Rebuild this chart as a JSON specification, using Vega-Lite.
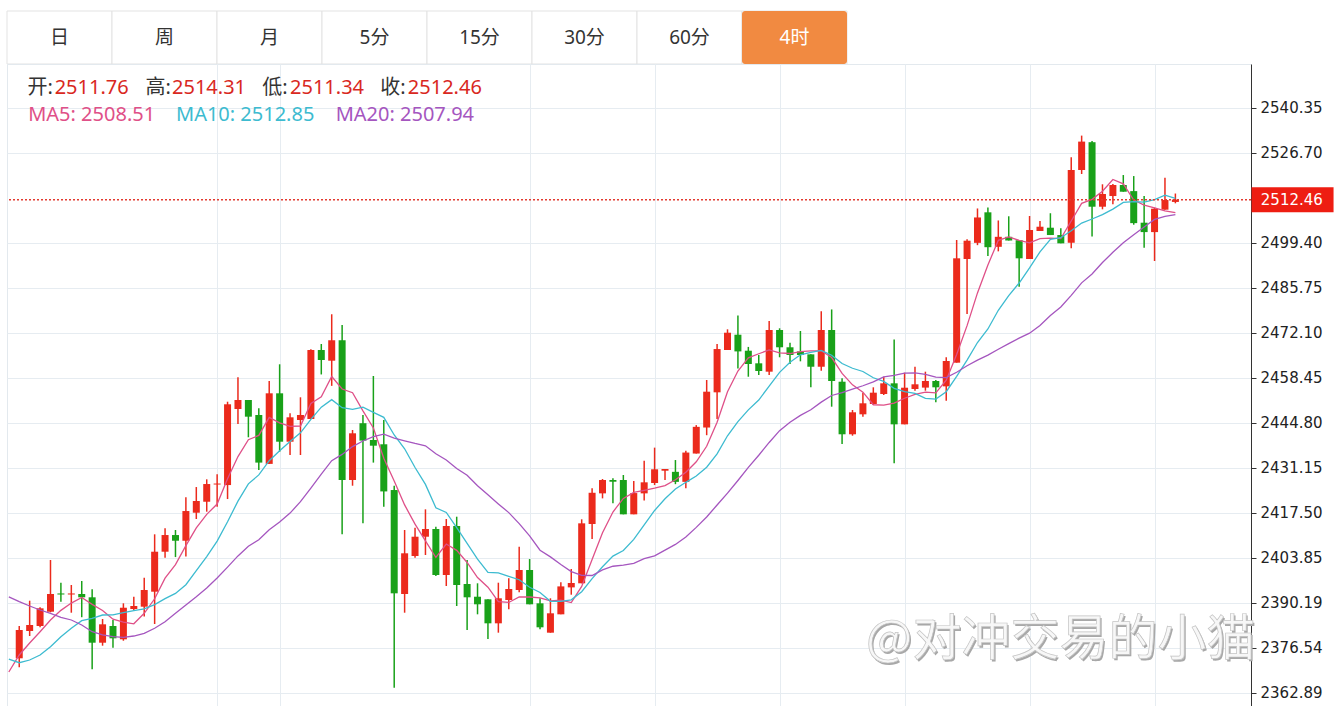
{
"$schema": "https://vega.github.io/schema/vega-lite/v6.json",
"autosize": {"type": "pad"},
"padding": {"left": 5, "top": 10, "right": 0, "bottom": 0},
"background": "#ffffff",
"spacing": 0,
"bounds": "flush",
"config": {"axis": {"gridColor": "#e6ecf1", "gridWidth": 1}},
"vconcat": [
{
"width": 840, "height": 53,
"view": {"stroke": null},
"data": {"values": [{"tab":"日"},{"tab":"周"},{"tab":"月"},{"tab":"5分"},{"tab":"15分"},{"tab":"30分"},{"tab":"60分"},{"tab":"4时"}]},
"encoding": {"x": {"field": "tab", "type": "nominal", "sort": null, "scale": {"paddingInner": 0, "paddingOuter": 0}, "axis": null}},
"layer": [
{"mark": {"type": "rect", "fill": "#ffffff", "stroke": "#e3e3e3", "strokeWidth": 1}},
{"transform": [{"filter": "datum.tab === '4时'"}], "mark": {"type": "rect", "fill": "#f18a41", "cornerRadius": 3}},
{"mark": {"type": "text", "font": "Noto Sans, Noto Sans CJK SC", "fontSize": 19, "baseline": "middle"},
 "encoding": {"text": {"field": "tab"}, "color": {"condition": {"test": "datum.tab === '4时'", "value": "#ffffff"}, "value": "#333333"}}}
]
},
{
"width": 1244, "height": 642,
"view": {"stroke": "#e3e9ee"},
"data": {"values": [
{"i":-1,"ma5":2369.17,"ma10":2373.11,"ma20":2391.98},
{"i":0,"o":2373.33,"h":2383.12,"l":2370.60,"c":2381.91,"ma5":2374.33,"ma10":2371.99,"ma20":2390.50},
{"i":1,"o":2381.61,"h":2390.80,"l":2380.09,"c":2383.43,"ma5":2377.97,"ma10":2372.81,"ma20":2389.19},
{"i":2,"o":2383.12,"h":2388.80,"l":2382.73,"c":2388.49,"ma5":2381.40,"ma10":2374.33,"ma20":2387.98},
{"i":3,"o":2387.46,"h":2403.14,"l":2387.28,"c":2392.83,"ma5":2384.95,"ma10":2376.85,"ma20":2386.98},
{"i":4,"o":2393.00,"h":2396.26,"l":2390.49,"c":2392.68,"ma5":2387.87,"ma10":2379.88,"ma20":2385.76},
{"i":5,"o":2392.68,"h":2395.56,"l":2387.16,"c":2393.00,"ma5":2390.08,"ma10":2382.43,"ma20":2384.95},
{"i":6,"o":2392.83,"h":2396.77,"l":2385.79,"c":2391.83,"ma5":2391.76,"ma10":2384.73,"ma20":2383.43},
{"i":7,"o":2391.83,"h":2394.26,"l":2369.99,"c":2378.06,"ma5":2389.68,"ma10":2385.46,"ma20":2381.40},
{"i":8,"o":2378.06,"h":2385.25,"l":2377.15,"c":2383.64,"ma5":2387.84,"ma10":2386.46,"ma20":2380.40},
{"i":9,"o":2383.12,"h":2384.94,"l":2376.54,"c":2379.39,"ma5":2385.18,"ma10":2386.52,"ma20":2379.88},
{"i":10,"o":2379.09,"h":2390.01,"l":2378.66,"c":2388.67,"ma5":2384.32,"ma10":2387.20,"ma20":2379.70},
{"i":11,"o":2388.28,"h":2392.00,"l":2387.98,"c":2389.19,"ma5":2383.79,"ma10":2387.78,"ma20":2380.09},
{"i":12,"o":2388.98,"h":2397.77,"l":2385.98,"c":2394.04,"ma5":2386.99,"ma10":2388.33,"ma20":2380.91},
{"i":13,"o":2393.53,"h":2410.94,"l":2383.73,"c":2405.66,"ma5":2391.39,"ma10":2389.62,"ma20":2382.43},
{"i":14,"o":2405.66,"h":2412.75,"l":2403.85,"c":2410.72,"ma5":2397.66,"ma10":2391.42,"ma20":2384.43},
{"i":15,"o":2410.72,"h":2412.24,"l":2404.03,"c":2408.99,"ma5":2401.73,"ma10":2393.02,"ma20":2386.98},
{"i":16,"o":2408.99,"h":2422.16,"l":2404.24,"c":2418.00,"ma5":2407.49,"ma10":2395.64,"ma20":2389.50},
{"i":17,"o":2417.49,"h":2425.28,"l":2415.58,"c":2421.04,"ma5":2412.89,"ma10":2399.94,"ma20":2392.01},
{"i":18,"o":2420.82,"h":2427.62,"l":2417.80,"c":2426.19,"ma5":2416.99,"ma10":2404.19,"ma20":2394.65},
{"i":19,"o":2426.04,"h":2429.13,"l":2419.31,"c":2426.34,"ma5":2420.12,"ma10":2408.89,"ma20":2397.70},
{"i":20,"o":2425.88,"h":2451.16,"l":2421.64,"c":2450.38,"ma5":2427.79,"ma10":2414.76,"ma20":2400.98},
{"i":21,"o":2448.95,"h":2458.57,"l":2444.40,"c":2451.68,"ma5":2434.52,"ma10":2421.00,"ma20":2404.39},
{"i":22,"o":2451.68,"h":2451.68,"l":2440.37,"c":2446.62,"ma5":2439.64,"ma10":2426.26,"ma20":2407.30},
{"i":23,"o":2447.13,"h":2449.16,"l":2430.47,"c":2432.69,"ma5":2440.93,"ma10":2428.96,"ma20":2409.29},
{"i":24,"o":2432.30,"h":2457.44,"l":2432.30,"c":2453.71,"ma5":2446.40,"ma10":2433.26,"ma20":2412.34},
{"i":25,"o":2453.71,"h":2462.51,"l":2436.00,"c":2439.03,"ma5":2444.74,"ma10":2436.26,"ma20":2414.64},
{"i":26,"o":2439.03,"h":2447.64,"l":2434.99,"c":2446.43,"ma5":2443.69,"ma10":2439.10,"ma20":2417.37},
{"i":27,"o":2445.61,"h":2452.50,"l":2434.99,"c":2447.13,"ma5":2443.79,"ma10":2441.71,"ma20":2420.83},
{"i":28,"o":2445.91,"h":2467.05,"l":2445.91,"c":2466.84,"ma5":2450.63,"ma10":2445.78,"ma20":2424.98},
{"i":29,"o":2466.84,"h":2468.66,"l":2459.43,"c":2463.81,"ma5":2452.65,"ma10":2449.52,"ma20":2429.21},
{"i":30,"o":2463.60,"h":2477.69,"l":2455.97,"c":2469.80,"ma5":2458.82,"ma10":2451.78,"ma20":2433.27},
{"i":31,"o":2469.80,"h":2474.42,"l":2410.94,"c":2427.41,"ma5":2455.01,"ma10":2449.35,"ma20":2435.18},
{"i":32,"o":2427.41,"h":2442.58,"l":2425.68,"c":2441.58,"ma5":2453.90,"ma10":2448.85,"ma20":2437.55},
{"i":33,"o":2444.64,"h":2447.13,"l":2414.27,"c":2439.36,"ma5":2448.40,"ma10":2449.51,"ma20":2439.24},
{"i":34,"o":2439.55,"h":2458.96,"l":2432.69,"c":2437.82,"ma5":2443.20,"ma10":2447.93,"ma20":2440.59},
{"i":35,"o":2438.25,"h":2445.61,"l":2419.31,"c":2423.95,"ma5":2434.00,"ma10":2446.41,"ma20":2441.33},
{"i":36,"o":2424.37,"h":2425.68,"l":2364.41,"c":2393.04,"ma5":2427.13,"ma10":2441.07,"ma20":2440.09},
{"i":37,"o":2392.83,"h":2412.24,"l":2387.16,"c":2405.18,"ma5":2419.85,"ma10":2436.88,"ma20":2439.29},
{"i":38,"o":2404.36,"h":2412.94,"l":2403.85,"c":2410.21,"ma5":2414.02,"ma10":2431.21,"ma20":2438.49},
{"i":39,"o":2410.21,"h":2418.52,"l":2404.66,"c":2412.55,"ma5":2408.97,"ma10":2426.08,"ma20":2437.80},
{"i":40,"o":2412.55,"h":2413.24,"l":2398.29,"c":2398.59,"ma5":2403.91,"ma10":2418.96,"ma20":2435.37},
{"i":41,"o":2398.59,"h":2415.58,"l":2395.26,"c":2413.46,"ma5":2408.00,"ma10":2417.56,"ma20":2433.46},
{"i":42,"o":2413.46,"h":2416.28,"l":2389.19,"c":2395.56,"ma5":2406.07,"ma10":2412.96,"ma20":2430.90},
{"i":43,"o":2395.87,"h":2403.14,"l":2381.91,"c":2391.83,"ma5":2402.40,"ma10":2408.21,"ma20":2428.86},
{"i":44,"o":2392.01,"h":2396.08,"l":2386.67,"c":2389.71,"ma5":2397.83,"ma10":2403.40,"ma20":2425.66},
{"i":45,"o":2391.22,"h":2391.22,"l":2379.18,"c":2383.94,"ma5":2394.90,"ma10":2399.41,"ma20":2422.91},
{"i":46,"o":2383.94,"h":2396.26,"l":2381.10,"c":2391.53,"ma5":2390.51,"ma10":2399.25,"ma20":2420.16},
{"i":47,"o":2391.01,"h":2397.59,"l":2388.19,"c":2394.35,"ma5":2390.27,"ma10":2398.17,"ma20":2417.52},
{"i":48,"o":2394.04,"h":2407.18,"l":2393.34,"c":2400.11,"ma5":2391.93,"ma10":2397.16,"ma20":2414.18},
{"i":49,"o":2400.11,"h":2403.44,"l":2389.71,"c":2389.71,"ma5":2391.93,"ma10":2394.88,"ma20":2410.48},
{"i":50,"o":2390.01,"h":2391.53,"l":2382.12,"c":2382.73,"ma5":2391.69,"ma10":2393.29,"ma20":2406.12},
{"i":51,"o":2381.10,"h":2391.53,"l":2381.10,"c":2386.98,"ma5":2390.77,"ma10":2390.64,"ma20":2404.10},
{"i":52,"o":2386.67,"h":2396.36,"l":2386.67,"c":2395.14,"ma5":2390.97,"ma10":2390.62,"ma20":2401.79},
{"i":53,"o":2394.84,"h":2400.41,"l":2392.62,"c":2396.17,"ma5":2390.23,"ma10":2391.08,"ma20":2399.64},
{"i":54,"o":2396.08,"h":2415.49,"l":2396.08,"c":2414.27,"ma5":2395.14,"ma10":2393.53,"ma20":2398.47},
{"i":55,"o":2414.06,"h":2424.88,"l":2409.51,"c":2423.54,"ma5":2403.31,"ma10":2397.50,"ma20":2398.45},
{"i":56,"o":2423.36,"h":2427.71,"l":2421.84,"c":2427.41,"ma5":2411.40,"ma10":2401.09,"ma20":2400.17},
{"i":57,"o":2427.41,"h":2427.92,"l":2420.34,"c":2426.89,"ma5":2417.71,"ma10":2404.34,"ma20":2401.25},
{"i":58,"o":2427.41,"h":2428.93,"l":2417.00,"c":2417.00,"ma5":2421.83,"ma10":2406.03,"ma20":2401.59},
{"i":59,"o":2417.00,"h":2427.10,"l":2417.00,"c":2423.45,"ma5":2423.66,"ma10":2409.40,"ma20":2402.14},
{"i":60,"o":2423.36,"h":2433.26,"l":2421.19,"c":2426.71,"ma5":2424.30,"ma10":2413.80,"ma20":2403.55},
{"i":61,"o":2426.50,"h":2437.23,"l":2425.88,"c":2430.66,"ma5":2424.95,"ma10":2418.17,"ma20":2404.41},
{"i":62,"o":2430.23,"h":2430.75,"l":2427.41,"c":2430.75,"ma5":2425.72,"ma10":2421.71,"ma20":2406.16},
{"i":63,"o":2429.89,"h":2433.47,"l":2426.15,"c":2426.85,"ma5":2427.50,"ma10":2424.66,"ma20":2407.87},
{"i":64,"o":2426.85,"h":2436.26,"l":2424.88,"c":2435.74,"ma5":2429.76,"ma10":2426.71,"ma20":2410.12},
{"i":65,"o":2435.44,"h":2444.06,"l":2435.44,"c":2443.54,"ma5":2432.93,"ma10":2428.61,"ma20":2413.05},
{"i":66,"o":2443.33,"h":2457.75,"l":2441.00,"c":2454.20,"ma5":2437.64,"ma10":2431.29,"ma20":2416.19},
{"i":67,"o":2454.01,"h":2468.66,"l":2445.91,"c":2467.14,"ma5":2444.92,"ma10":2435.32,"ma20":2419.83},
{"i":68,"o":2466.84,"h":2473.12,"l":2466.84,"c":2472.09,"ma5":2454.16,"ma10":2440.83,"ma20":2423.43},
{"i":69,"o":2471.48,"h":2477.29,"l":2461.27,"c":2466.42,"ma5":2460.47,"ma10":2445.11,"ma20":2427.26},
{"i":70,"o":2466.63,"h":2467.78,"l":2458.74,"c":2462.60,"ma5":2464.45,"ma10":2448.69,"ma20":2431.25},
{"i":71,"o":2462.81,"h":2465.33,"l":2459.26,"c":2460.48,"ma5":2465.71,"ma10":2451.67,"ma20":2434.92},
{"i":72,"o":2460.27,"h":2475.65,"l":2459.26,"c":2472.92,"ma5":2466.86,"ma10":2455.89,"ma20":2438.80},
{"i":73,"o":2472.92,"h":2473.43,"l":2464.64,"c":2467.67,"ma5":2465.98,"ma10":2460.07,"ma20":2442.37},
{"i":74,"o":2467.67,"h":2469.07,"l":2462.60,"c":2465.33,"ma5":2465.78,"ma10":2463.12,"ma20":2444.91},
{"i":75,"o":2466.42,"h":2472.61,"l":2463.41,"c":2465.33,"ma5":2466.34,"ma10":2465.40,"ma20":2447.01},
{"i":76,"o":2465.53,"h":2465.53,"l":2455.58,"c":2461.77,"ma5":2466.60,"ma10":2466.16,"ma20":2448.72},
{"i":77,"o":2461.77,"h":2478.63,"l":2460.56,"c":2472.92,"ma5":2466.60,"ma10":2466.73,"ma20":2451.03},
{"i":78,"o":2472.92,"h":2479.15,"l":2449.65,"c":2457.44,"ma5":2464.56,"ma10":2465.27,"ma20":2453.05},
{"i":79,"o":2457.23,"h":2458.26,"l":2438.34,"c":2441.28,"ma5":2459.75,"ma10":2462.76,"ma20":2453.94},
{"i":80,"o":2441.28,"h":2448.65,"l":2440.85,"c":2447.95,"ma5":2456.27,"ma10":2461.31,"ma20":2455.00},
{"i":81,"o":2447.34,"h":2453.90,"l":2446.62,"c":2450.68,"ma5":2454.05,"ma10":2460.33,"ma20":2456.00},
{"i":82,"o":2450.47,"h":2455.53,"l":2450.16,"c":2453.90,"ma5":2450.24,"ma10":2458.42,"ma20":2457.16},
{"i":83,"o":2453.50,"h":2458.74,"l":2453.20,"c":2456.74,"ma5":2450.11,"ma10":2457.33,"ma20":2458.70},
{"i":84,"o":2456.74,"h":2470.01,"l":2432.51,"c":2444.30,"ma5":2450.71,"ma10":2455.23,"ma20":2459.18},
{"i":85,"o":2444.30,"h":2459.96,"l":2444.30,"c":2455.41,"ma5":2452.21,"ma10":2454.24,"ma20":2459.82},
{"i":86,"o":2455.02,"h":2461.77,"l":2454.50,"c":2456.44,"ma5":2453.36,"ma10":2453.70,"ma20":2459.93},
{"i":87,"o":2455.44,"h":2460.27,"l":2454.50,"c":2457.44,"ma5":2454.07,"ma10":2452.16,"ma20":2459.44},
{"i":88,"o":2457.44,"h":2457.75,"l":2450.98,"c":2455.53,"ma5":2453.82,"ma10":2451.97,"ma20":2458.61},
{"i":89,"o":2455.82,"h":2464.63,"l":2451.47,"c":2463.51,"ma5":2457.66,"ma10":2454.19,"ma20":2458.47},
{"i":90,"o":2463.00,"h":2500.21,"l":2463.00,"c":2494.66,"ma5":2465.51,"ma10":2458.86,"ma20":2460.08},
{"i":91,"o":2494.45,"h":2500.42,"l":2477.76,"c":2500.00,"ma5":2474.23,"ma10":2463.79,"ma20":2462.06},
{"i":92,"o":2499.35,"h":2509.78,"l":2498.65,"c":2507.05,"ma5":2484.16,"ma10":2469.11,"ma20":2463.77},
{"i":93,"o":2508.61,"h":2510.09,"l":2495.35,"c":2498.03,"ma5":2492.63,"ma10":2473.23,"ma20":2465.28},
{"i":94,"o":2498.15,"h":2506.14,"l":2496.77,"c":2501.18,"ma5":2500.13,"ma10":2478.90,"ma20":2467.06},
{"i":95,"o":2501.18,"h":2507.41,"l":2500.06,"c":2500.06,"ma5":2501.18,"ma10":2483.35,"ma20":2468.79},
{"i":96,"o":2500.15,"h":2500.15,"l":2486.00,"c":2494.66,"ma5":2500.11,"ma10":2487.17,"ma20":2470.43},
{"i":97,"o":2494.45,"h":2507.49,"l":2494.45,"c":2503.24,"ma5":2499.34,"ma10":2491.75,"ma20":2471.95},
{"i":98,"o":2502.94,"h":2505.97,"l":2502.94,"c":2504.24,"ma5":2500.62,"ma10":2496.62,"ma20":2474.29},
{"i":99,"o":2503.94,"h":2508.33,"l":2501.72,"c":2501.72,"ma5":2500.76,"ma10":2500.44,"ma20":2477.32},
{"i":100,"o":2501.72,"h":2503.76,"l":2499.20,"c":2499.20,"ma5":2500.62,"ma10":2500.90,"ma20":2479.88},
{"i":101,"o":2499.38,"h":2525.30,"l":2497.68,"c":2521.45,"ma5":2505.97,"ma10":2503.04,"ma20":2483.42},
{"i":102,"o":2521.45,"h":2531.88,"l":2520.24,"c":2530.06,"ma5":2511.33,"ma10":2505.34,"ma20":2487.22},
{"i":103,"o":2529.88,"h":2530.27,"l":2501.24,"c":2510.31,"ma5":2512.54,"ma10":2506.58,"ma20":2489.90},
{"i":104,"o":2510.31,"h":2517.11,"l":2509.52,"c":2514.16,"ma5":2515.03,"ma10":2507.89,"ma20":2493.39},
{"i":105,"o":2513.55,"h":2517.19,"l":2511.04,"c":2516.89,"ma5":2518.57,"ma10":2509.59,"ma20":2496.47},
{"i":106,"o":2516.89,"h":2519.92,"l":2514.86,"c":2514.86,"ma5":2517.25,"ma10":2511.61,"ma20":2499.39},
{"i":107,"o":2515.04,"h":2519.61,"l":2504.85,"c":2505.33,"ma5":2512.34,"ma10":2511.83,"ma20":2501.79},
{"i":108,"o":2505.46,"h":2513.55,"l":2497.89,"c":2502.61,"ma5":2510.82,"ma10":2511.68,"ma20":2504.15},
{"i":109,"o":2502.61,"h":2510.02,"l":2493.85,"c":2509.71,"ma5":2509.95,"ma10":2512.49,"ma20":2506.47},
{"i":110,"o":2509.41,"h":2519.10,"l":2509.41,"c":2512.34,"ma5":2509.04,"ma10":2513.81,"ma20":2507.35},
{"i":111,"o":2511.76,"h":2514.31,"l":2511.34,"c":2512.46,"ma5":2508.51,"ma10":2512.85,"ma20":2507.94}
]},
"layer": [
{"mark": {"type": "rule", "strokeWidth": 1.5},
 "encoding": {
  "x": {"field": "i", "type": "quantitative", "scale": {"domain": [-0.695, 117.78], "nice": false, "zero": false},
        "axis": {"orient": "top", "values": [19, 25, 49, 61, 73, 85, 97, 109], "grid": true, "labels": false, "ticks": false, "domain": false, "title": null}},
  "y": {"field": "l", "type": "quantitative", "scale": {"domain": [2358.86, 2553.6], "nice": false, "zero": false},
        "axis": {"orient": "right", "values": [2362.89, 2376.54, 2390.19, 2403.85, 2417.50, 2431.15, 2444.80, 2458.45, 2472.10, 2485.75, 2499.40, 2526.70, 2540.35],
                 "format": ".2f", "title": null, "grid": true, "domainColor": "#333333", "tickColor": "#333333", "tickSize": 5, "labelPadding": 4,
                 "labelFont": "DejaVu Sans", "labelFontSize": 15, "labelColor": "#222222", "labelFlush": false, "labelOverlap": false, "labelBound": false}},
  "y2": {"field": "h"},
  "color": {"condition": {"test": "datum.c >= datum.o", "value": "#eb2a1c"}, "value": "#19a119"}
 }},
{"mark": {"type": "bar", "size": 7, "orient": "vertical"},
 "encoding": {
  "x": {"field": "i", "type": "quantitative", "axis": {"title": null}},
  "y": {"field": "o", "type": "quantitative", "axis": {"title": null}},
  "y2": {"field": "c"},
  "color": {"condition": {"test": "datum.c >= datum.o", "value": "#eb2a1c"}, "value": "#19a119"}
 }},
{"mark": {"type": "line", "color": "#df5088", "strokeWidth": 1.3, "clip": true},
 "encoding": {"x": {"field": "i", "type": "quantitative", "axis": {"title": null}}, "y": {"field": "ma5", "type": "quantitative", "axis": {"title": null}}}},
{"mark": {"type": "line", "color": "#3dbbd0", "strokeWidth": 1.3, "clip": true},
 "encoding": {"x": {"field": "i", "type": "quantitative", "axis": {"title": null}}, "y": {"field": "ma10", "type": "quantitative", "axis": {"title": null}}}},
{"mark": {"type": "line", "color": "#a556bf", "strokeWidth": 1.3, "clip": true},
 "encoding": {"x": {"field": "i", "type": "quantitative", "axis": {"title": null}}, "y": {"field": "ma20", "type": "quantitative", "axis": {"title": null}}}},
{"data": {"values": [{}]},
 "mark": {"type": "rule", "color": "#e23a30", "strokeWidth": 1.5, "strokeDash": [2, 2]},
 "encoding": {"y": {"datum": 2512.46, "type": "quantitative"}}},
{"data": {"values": [{}]},
 "mark": {"type": "tick", "orient": "horizontal", "size": 82, "thickness": 25, "color": "#ee1d12", "opacity": 1, "clip": false},
 "encoding": {"x": {"datum": 122.25, "type": "quantitative"}, "y": {"datum": 2512.46, "type": "quantitative"}}},
{"data": {"values": [{}]},
 "mark": {"type": "text", "align": "left", "baseline": "middle", "font": "DejaVu Sans", "fontSize": 15, "color": "#ffffff", "clip": false},
 "encoding": {"x": {"datum": 119.2, "type": "quantitative"}, "y": {"datum": 2512.46, "type": "quantitative"}, "text": {"value": "2512.46"}}},
{"data": {"values": [{}]},
 "mark": {"type": "text", "align": "left", "baseline": "middle", "font": "Noto Sans, Noto Sans CJK SC", "fontSize": 20, "color": "#333333"},
 "encoding": {"x": {"datum": 0.8, "type": "quantitative"}, "y": {"datum": 2546.32, "type": "quantitative"}, "text": {"value": "开:"}}},
{"data": {"values": [{}]},
 "mark": {"type": "text", "align": "left", "baseline": "middle", "font": "Noto Sans, Noto Sans CJK SC", "fontSize": 20, "color": "#d9281e"},
 "encoding": {"x": {"datum": 3.4, "type": "quantitative"}, "y": {"datum": 2546.32, "type": "quantitative"}, "text": {"value": "2511.76"}}},
{"data": {"values": [{}]},
 "mark": {"type": "text", "align": "left", "baseline": "middle", "font": "Noto Sans, Noto Sans CJK SC", "fontSize": 20, "color": "#333333"},
 "encoding": {"x": {"datum": 12.13, "type": "quantitative"}, "y": {"datum": 2546.32, "type": "quantitative"}, "text": {"value": "高:"}}},
{"data": {"values": [{}]},
 "mark": {"type": "text", "align": "left", "baseline": "middle", "font": "Noto Sans, Noto Sans CJK SC", "fontSize": 20, "color": "#d9281e"},
 "encoding": {"x": {"datum": 14.67, "type": "quantitative"}, "y": {"datum": 2546.32, "type": "quantitative"}, "text": {"value": "2514.31"}}},
{"data": {"values": [{}]},
 "mark": {"type": "text", "align": "left", "baseline": "middle", "font": "Noto Sans, Noto Sans CJK SC", "fontSize": 20, "color": "#333333"},
 "encoding": {"x": {"datum": 23.33, "type": "quantitative"}, "y": {"datum": 2546.32, "type": "quantitative"}, "text": {"value": "低:"}}},
{"data": {"values": [{}]},
 "mark": {"type": "text", "align": "left", "baseline": "middle", "font": "Noto Sans, Noto Sans CJK SC", "fontSize": 20, "color": "#d9281e"},
 "encoding": {"x": {"datum": 26.0, "type": "quantitative"}, "y": {"datum": 2546.32, "type": "quantitative"}, "text": {"value": "2511.34"}}},
{"data": {"values": [{}]},
 "mark": {"type": "text", "align": "left", "baseline": "middle", "font": "Noto Sans, Noto Sans CJK SC", "fontSize": 20, "color": "#333333"},
 "encoding": {"x": {"datum": 34.67, "type": "quantitative"}, "y": {"datum": 2546.32, "type": "quantitative"}, "text": {"value": "收:"}}},
{"data": {"values": [{}]},
 "mark": {"type": "text", "align": "left", "baseline": "middle", "font": "Noto Sans, Noto Sans CJK SC", "fontSize": 20, "color": "#d9281e"},
 "encoding": {"x": {"datum": 37.31, "type": "quantitative"}, "y": {"datum": 2546.32, "type": "quantitative"}, "text": {"value": "2512.46"}}},
{"data": {"values": [{}]},
 "mark": {"type": "text", "align": "left", "baseline": "middle", "font": "Noto Sans, Noto Sans CJK SC", "fontSize": 20, "color": "#df5088"},
 "encoding": {"x": {"datum": 0.86, "type": "quantitative"}, "y": {"datum": 2538.13, "type": "quantitative"}, "text": {"value": "MA5: 2508.51"}}},
{"data": {"values": [{}]},
 "mark": {"type": "text", "align": "left", "baseline": "middle", "font": "Noto Sans, Noto Sans CJK SC", "fontSize": 20, "color": "#3dbbd0"},
 "encoding": {"x": {"datum": 15.05, "type": "quantitative"}, "y": {"datum": 2538.13, "type": "quantitative"}, "text": {"value": "MA10: 2512.85"}}},
{"data": {"values": [{}]},
 "mark": {"type": "text", "align": "left", "baseline": "middle", "font": "Noto Sans, Noto Sans CJK SC", "fontSize": 20, "color": "#a556bf"},
 "encoding": {"x": {"datum": 30.38, "type": "quantitative"}, "y": {"datum": 2538.13, "type": "quantitative"}, "text": {"value": "MA20: 2507.94"}}},
{"data": {"values": [{}]},
 "mark": {"type": "text", "align": "left", "baseline": "middle", "font": "Noto Sans CJK SC", "fontSize": 49, "color": "#a8a8a8", "dx": 1.5, "dy": 1.5, "clip": false},
 "encoding": {"x": {"datum": 81.3, "type": "quantitative"}, "y": {"datum": 2378.88, "type": "quantitative"}, "text": {"value": "@对冲交易的小猫"}}},
{"data": {"values": [{}]},
 "mark": {"type": "text", "align": "left", "baseline": "middle", "font": "Noto Sans CJK SC", "fontSize": 49, "color": "#f7f7f7", "stroke": "#c4c4c4", "strokeWidth": 0.7, "clip": false},
 "encoding": {"x": {"datum": 81.3, "type": "quantitative"}, "y": {"datum": 2378.88, "type": "quantitative"}, "text": {"value": "@对冲交易的小猫"}}}
]
}
]
}
